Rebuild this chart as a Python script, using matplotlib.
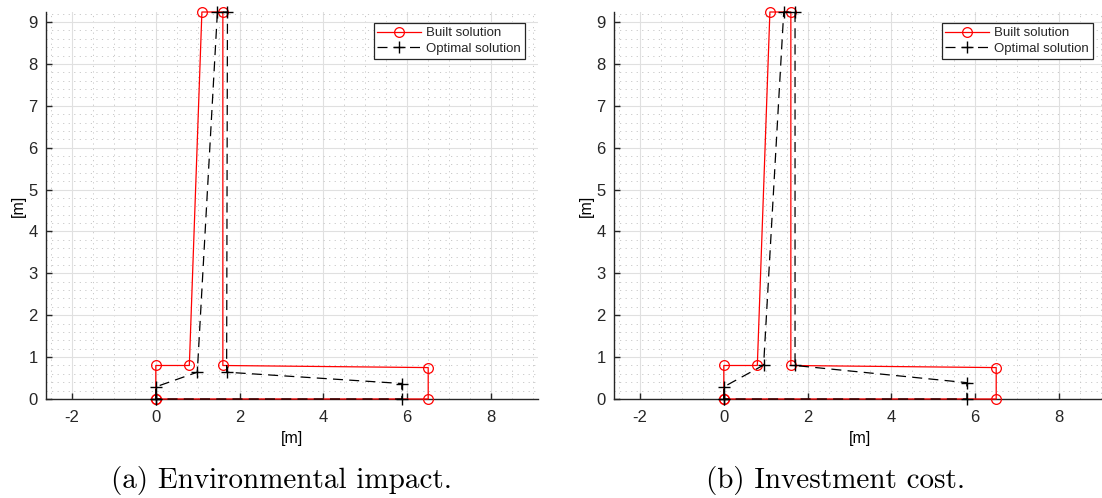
import matplotlib
matplotlib.use("Agg")
import matplotlib.pyplot as plt
from matplotlib.ticker import MultipleLocator

plt.rcParams.update({
    "font.family": ["Liberation Sans", "DejaVu Sans"],
    "axes.unicode_minus": False,
    "axes.edgecolor": "#262626",
    "xtick.color": "#262626",
    "ytick.color": "#262626",
    "text.color": "#262626",
})

# built layout (same in both cases)
built_x = [0, 0, 0.8, 1.1, 1.6, 1.6, 6.5, 6.5, 0]
built_y = [0, 0.8, 0.8, 9.24, 9.24, 0.8, 0.75, 0, 0]

# optimal layout, environmental impact objective
env_x = [0, 0, 0.99, 1.47, 1.71, 1.69, 5.87, 5.87, 0]
env_y = [0, 0.29, 0.64, 9.24, 9.24, 0.64, 0.37, 0, 0]

# optimal layout, investment cost objective
cost_x = [0, 0, 0.95, 1.43, 1.70, 1.70, 5.80, 5.80, 0]
cost_y = [0, 0.29, 0.81, 9.24, 9.24, 0.80, 0.39, 0, 0]

captions = ["(a) Environmental impact.", "(b) Investment cost."]

W, H = 1102, 498
fig = plt.figure(figsize=(W / 100, H / 100), dpi=100)

panels = [(46, env_x, env_y), (614, cost_x, cost_y)]
axes = []
for left, opt_x, opt_y in panels:
    ax = fig.add_axes([left / W, 99 / H, 492 / W, 387 / H])
    ax.plot(built_x, built_y, color="red", lw=0.9, marker="o", ms=7,
            mfc="none", mew=0.9, clip_on=False, label="Built solution", zorder=3)
    ax.plot(opt_x, opt_y, color="black", lw=0.9, ls=(0, (8, 5)), marker="+",
            ms=8, mew=1.0, clip_on=False, label="Optimal solution", zorder=4)

    ax.set_xlim(-2.62, 9.12)
    ax.set_ylim(0, 9.24)
    ax.xaxis.set_major_locator(MultipleLocator(2))
    ax.yaxis.set_major_locator(MultipleLocator(1))
    ax.xaxis.set_minor_locator(MultipleLocator(0.5))
    ax.yaxis.set_minor_locator(MultipleLocator(0.2))

    ax.grid(which="major", color="#e0e0e0", lw=0.8, ls="-")
    ax.grid(which="minor", color="#c8c8c8", lw=0.7, ls=(0, (1.2, 4.5)))
    ax.set_axisbelow(True)

    for side in ("top", "right"):
        ax.spines[side].set_visible(False)
    for side in ("left", "bottom"):
        ax.spines[side].set_linewidth(1.0)
        ax.spines[side].set_zorder(2.5)

    ax.tick_params(which="major", direction="in", length=4, width=1.0,
                   labelsize=12)
    ax.tick_params(axis="x", pad=8)
    ax.tick_params(axis="y", pad=6)
    ax.tick_params(which="minor", length=0)

    ax.set_xlabel("[m]", fontsize=11.5)
    ax.set_ylabel("[m]", fontsize=11.5)
    ax.xaxis.set_label_coords(0.5, -0.083)
    ax.yaxis.set_label_coords(-0.040, 0.5)

    leg = ax.legend(loc="upper right", bbox_to_anchor=(1 - 13 / 492, 1 - 11 / 387),
                    fontsize=9.5, frameon=True, fancybox=False, framealpha=1,
                    edgecolor="#262626", handlelength=3.3, handletextpad=0.4,
                    borderpad=0.3, labelspacing=0.25, borderaxespad=0)
    leg.get_frame().set_linewidth(0.9)
    axes.append(ax)

fig.text(281 / W, 1 - 480 / H, captions[0], family="cmr10", fontsize=21,
         ha="center", va="center", color="black")
fig.text(835 / W, 1 - 480 / H, captions[1], family="cmr10", fontsize=21,
         ha="center", va="center", color="black")

fig.savefig("out.png", dpi=100)
